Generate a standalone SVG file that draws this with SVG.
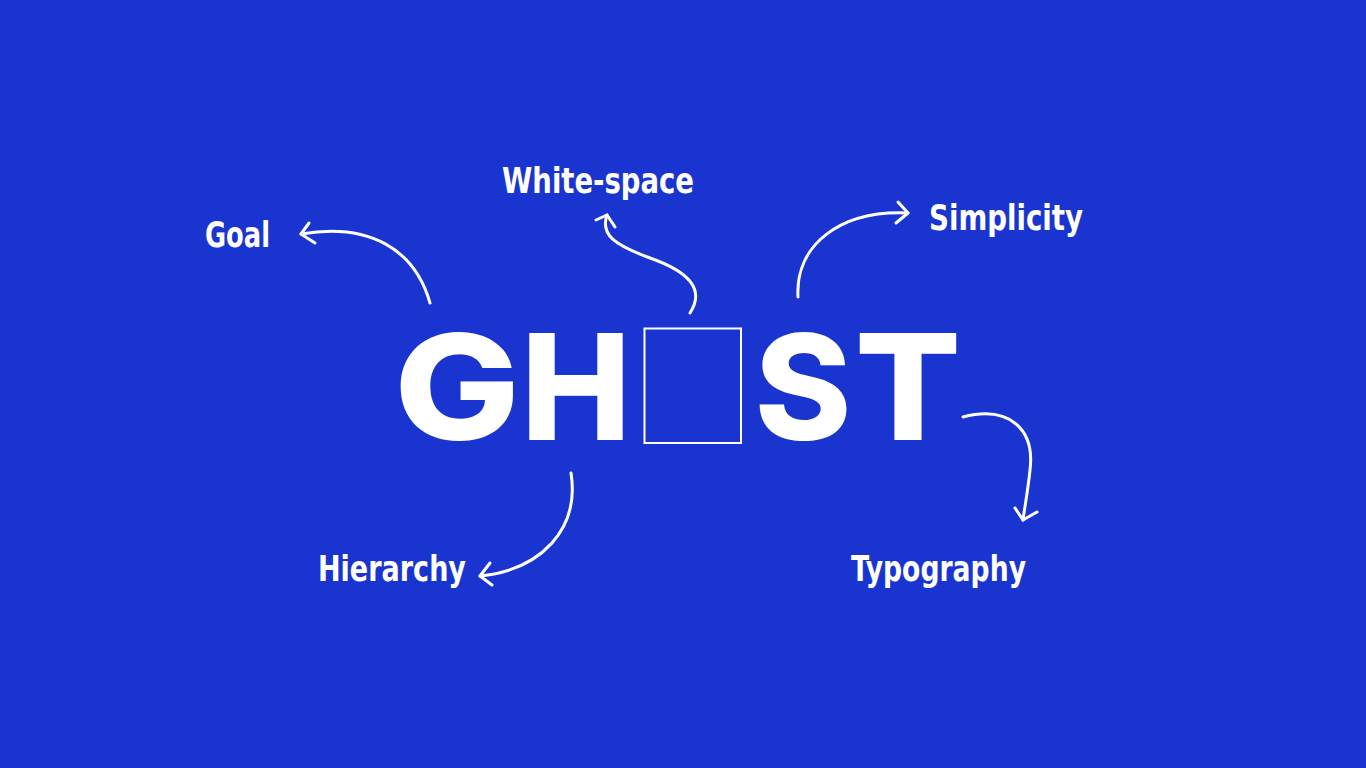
<svg xmlns="http://www.w3.org/2000/svg" width="1366" height="768" viewBox="0 0 1366 768">
<style>
.lbl{font-family:"DejaVu Sans Condensed","DejaVu Sans",sans-serif;font-weight:bold;font-size:36px;fill:#fff}
.big{font-family:Inter,"Liberation Sans",sans-serif;font-weight:800;font-size:147px;fill:#fff;text-anchor:middle}
.arr{fill:none;stroke:#fff;stroke-width:3;stroke-linecap:round;stroke-linejoin:round}
</style>
<rect width="1366" height="768" fill="#1A35CF"/>
<g id="ghost">
<text class="big" transform="translate(457,440) scale(1.14,1)">G</text>
<text class="big" transform="translate(576,440)">H</text>
<rect x="644.5" y="328.5" width="96.5" height="114.5" fill="none" stroke="#fff" stroke-width="2"/>
<text class="big" transform="translate(803,440)">S</text>
<text class="big" transform="translate(908,440) scale(1.07,1)">T</text>
</g>
<g id="goal"><text class="lbl" x="205" y="247" textLength="65" lengthAdjust="spacingAndGlyphs">Goal</text></g>
<g id="whitespace"><text class="lbl" x="502" y="193" textLength="192" lengthAdjust="spacingAndGlyphs">White-space</text></g>
<g id="simplicity"><text class="lbl" x="929" y="230" textLength="154" lengthAdjust="spacingAndGlyphs">Simplicity</text></g>
<g id="hierarchy"><text class="lbl" x="318" y="581" textLength="148" lengthAdjust="spacingAndGlyphs">Hierarchy</text></g>
<g id="typography"><text class="lbl" x="851" y="581" textLength="175" lengthAdjust="spacingAndGlyphs">Typography</text></g>
<g id="connectors">
<path class="arr" d="M430,303 C415,250 370,222 301,234"/>
<path class="arr" d="M309,223 L301,234 L315,243"/>
<path class="arr" d="M690,313 C705,290 690,272 650,258 C615,245 600,235 607,215"/>
<path class="arr" d="M596,220 L607,215 L615,227"/>
<path class="arr" d="M798,297 C795,245 840,210 908,213"/>
<path class="arr" d="M898,202 L908,213 L896,223"/>
<path class="arr" d="M571,473 C580,530 540,570 480,576"/>
<path class="arr" d="M490,563 L480,576 L492,585"/>
<path class="arr" d="M963,417 C1010,405 1035,430 1030,470 C1028,490 1025,505 1023,520"/>
<path class="arr" d="M1015,508 L1023,520 L1037,512"/>
</g>
</svg>
